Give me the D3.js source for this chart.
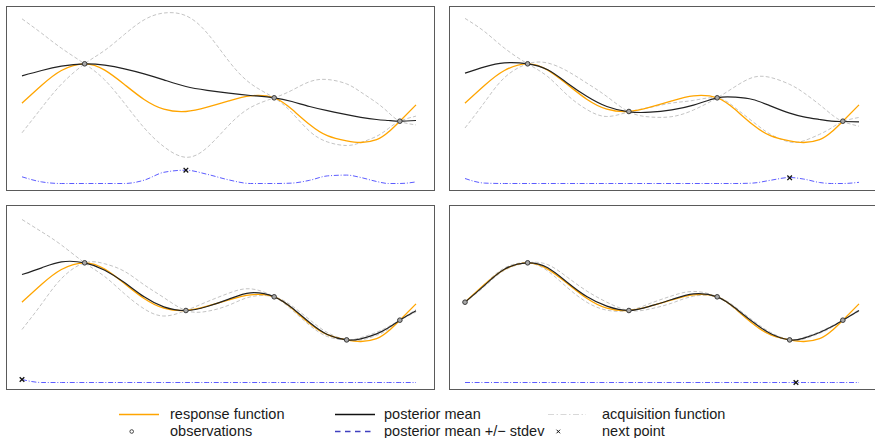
<!DOCTYPE html>
<html>
<head>
<meta charset="utf-8">
<script src="https://cdn.jsdelivr.net/npm/d3@7"></script>
<style>
  html, body { margin: 0; padding: 0; background: #fff; }
  svg { display: block; font-family: "Liberation Sans", Arial, Helvetica, sans-serif; }
</style>
</head>
<body>
<svg id="chart" width="875" height="438"></svg>
<script>
// Shared sampling grid along the input axis
const xGrid = [0, 0.5, 1.0, 1.59, 2.1, 2.6, 3.1, 3.6, 4.16, 4.7, 5.25, 5.8, 6.4, 6.85, 7.3, 7.75, 8.24, 8.6, 9.0, 9.3, 9.59, 10];

// True response function (same in every panel)
const response = [-0.117, 0.33, 0.70, 0.867, 0.708, 0.35, -0.025, -0.267, -0.325, -0.217, -0.06, 0.067, 0.017, -0.27, -0.65, -0.93, -1.06, -1.1, -1.03, -0.84, -0.567, -0.16];

// Observations, in the order they were sampled
const obsX = [1.59, 6.4, 9.59, 4.16, 8.24, 0];
const obsY = [0.867, 0.017, -0.567, -0.325, -1.06, -0.117];
const obsCount = [3, 4, 5, 6];

// Posterior mean per iteration
const mean1 = [0.567, 0.70, 0.808, 0.867, 0.833, 0.742, 0.617, 0.467, 0.30, 0.205, 0.133, 0.075, 0.017, -0.075, -0.2, -0.305, -0.405, -0.47, -0.525, -0.55, -0.567, -0.55];
const mean2 = [0.633, 0.79, 0.89, 0.867, 0.717, 0.383, 0.05, -0.2, -0.333, -0.342, -0.283, -0.167, 0.017, 0.033, -0.025, -0.183, -0.367, -0.458, -0.525, -0.567, -0.575, -0.583];
const mean3 = [0.575, 0.742, 0.892, 0.867, 0.683, 0.375, 0.017, -0.233, -0.325, -0.225, -0.042, 0.117, 0.017, -0.258, -0.625, -0.925, -1.06, -1.033, -0.908, -0.758, -0.567, -0.333];
const mean4 = [-0.117, 0.308, 0.708, 0.867, 0.742, 0.375, 0.017, -0.217, -0.325, -0.217, -0.05, 0.092, 0.017, -0.258, -0.608, -0.9, -1.06, -1.017, -0.875, -0.733, -0.567, -0.325];

// Posterior standard deviation per iteration
const std1 = [1.425, 0.93, 0.45, 0, 0.37, 0.86, 1.35, 1.67, 1.77, 1.43, 0.8, 0.3, 0, 0.28, 0.62, 0.78, 0.77, 0.63, 0.42, 0.2, 0, 0.11];
const std2 = [1.37, 0.88, 0.37, 0, 0.17, 0.3, 0.33, 0.25, 0, 0.12, 0.17, 0.12, 0, 0.26, 0.55, 0.71, 0.72, 0.6, 0.37, 0.17, 0, 0.11];
const std3 = [1.375, 0.9, 0.42, 0, 0.16, 0.28, 0.3, 0.23, 0, 0.12, 0.15, 0.1, 0, 0.05, 0.07, 0.05, 0, 0.03, 0.04, 0.03, 0, 0.03];
const std4 = [0, 0.03, 0.03, 0, 0.08, 0.13, 0.14, 0.1, 0, 0.07, 0.09, 0.06, 0, 0.03, 0.04, 0.03, 0, 0.02, 0.02, 0.02, 0, 0.02];

// Acquisition function per iteration
const acq1 = [0.167, 0.04, 0, 0, 0, 0, 0.083, 0.28, 0.333, 0.23, 0.09, 0, 0, 0.01, 0.08, 0.19, 0.21, 0.15, 0.05, 0, 0, 0.04];
const acq2 = [0.125, 0.01, 0, 0, 0, 0, 0, 0, 0, 0, 0, 0, 0, 0, 0.01, 0.08, 0.15, 0.11, 0.025, 0, 0, 0.03];
const acq3 = [0.075, 0, 0, 0, 0, 0, 0, 0, 0, 0, 0, 0, 0, 0, 0, 0, 0, 0, 0, 0, 0, 0];
const acq4 = [0, 0, 0, 0, 0, 0, 0, 0, 0, 0, 0, 0, 0, 0, 0, 0, 0, 0, 0, 0, 0, 0];

// Point proposed by the acquisition function
const nextX = [4.16, 8.24, 0, 8.4];
const nextAcq = [0.333, 0.142, 0.075, 0];

// Legend entries
const legendLabels = ["response function", "observations", "posterior mean", "posterior mean +/\u2212 stdev", "acquisition function", "next point"];

const means = [mean1, mean2, mean3, mean4];
const stds = [std1, std2, std3, std4];
const acqs = [acq1, acq2, acq3, acq4];

const svg = d3.select("#chart");

const panelW = 428, panelH = 184;
const panelPos = [[6.5, 6.5], [449.5, 6.5], [6.5, 205.5], [449.5, 205.5]];

const C = {
  response: "#ffa500",
  mean: "#222222",
  band: "#c4c4c4",
  acq: "#5c5cff",
  obsStroke: "#3a3a3a",
  obsFill: "#a8a8a8",
  frame: "#5a5a5a"
};

panelPos.forEach(([left, top], i) => {
  const g = svg.append("g");

  const x = d3.scaleLinear().domain([0, 10]).range([left + 15.5, left + 409.5]);
  const y = d3.scaleLinear().domain([-2.3, 2.3]).range([top + 184, top]);
  const ya = d3.scaleLinear().domain([0, 1]).range([top + 177, top + 137]);

  const line = d3.line()
    .x(d => x(d[0]))
    .y(d => y(d[1]))
    .curve(d3.curveNatural);
  const acqLine = d3.line()
    .x(d => x(d[0]))
    .y(d => ya(d[1]))
    .curve(d3.curveMonotoneX);

  const m = means[i], s = stds[i], a = acqs[i];
  const n = obsCount[i];
  const seen = obsX.slice(0, n);

  // frame
  g.append("rect")
    .attr("x", left).attr("y", top)
    .attr("width", panelW).attr("height", panelH)
    .attr("fill", "none").attr("stroke", C.frame).attr("stroke-width", 1);

  // the two band edges swap sides at every observation, so each edge is drawn
  // as one smooth curve crossing the mean there
  const side = xGrid.map(xv => (seen.filter(o => o < xv - 1e-6).length % 2 === 0) ? 1 : -1);
  [1, -1].forEach(sign => {
    g.append("path")
      .datum(xGrid.map((xv, k) => [xv, m[k] + sign * side[k] * s[k]]))
      .attr("d", line)
      .attr("fill", "none")
      .attr("stroke", C.band)
      .attr("stroke-width", 1)
      .attr("stroke-dasharray", "3.7,2.2");
  });

  // response function
  g.append("path")
    .datum(xGrid.map((xv, k) => [xv, response[k]]))
    .attr("d", line)
    .attr("fill", "none")
    .attr("stroke", C.response)
    .attr("stroke-width", 1.3);

  // posterior mean
  g.append("path")
    .datum(xGrid.map((xv, k) => [xv, m[k]]))
    .attr("d", line)
    .attr("fill", "none")
    .attr("stroke", C.mean)
    .attr("stroke-width", 1.2);

  // acquisition function
  g.append("path")
    .datum(xGrid.map((xv, k) => [xv, a[k]]))
    .attr("d", acqLine)
    .attr("fill", "none")
    .attr("stroke", C.acq)
    .attr("stroke-width", 1)
    .attr("stroke-dasharray", "5,1.8,1,1.8");

  // observations
  g.selectAll("circle.obs")
    .data(d3.range(n))
    .enter().append("circle")
    .attr("class", "obs")
    .attr("cx", k => x(obsX[k]))
    .attr("cy", k => y(obsY[k]))
    .attr("r", 2.3)
    .attr("fill", C.obsFill)
    .attr("stroke", C.obsStroke)
    .attr("stroke-width", 1);

  // next point marker
  const nx = x(nextX[i]), ny = ya(nextAcq[i]), h = 2.3;
  g.append("path")
    .attr("d", `M${nx - h},${ny - h}L${nx + h},${ny + h}M${nx - h},${ny + h}L${nx + h},${ny - h}`)
    .attr("stroke", "#111")
    .attr("stroke-width", 1.3);
});

// Legend
const lg = svg.append("g").attr("font-size", 14.5).attr("fill", "#1a1a1a");
const row1 = 414.5, row2 = 431.5;

lg.append("line").attr("x1", 119).attr("x2", 159).attr("y1", row1).attr("y2", row1)
  .attr("stroke", C.response).attr("stroke-width", 1.5);
lg.append("circle").attr("cx", 131.7).attr("cy", row2).attr("r", 1.8)
  .attr("fill", "#fff").attr("stroke", "#333").attr("stroke-width", 0.9);
lg.append("line").attr("x1", 335).attr("x2", 375).attr("y1", row1).attr("y2", row1)
  .attr("stroke", "#111").attr("stroke-width", 1.5);
lg.append("line").attr("x1", 335).attr("x2", 375).attr("y1", row2).attr("y2", row2)
  .attr("stroke", "#4040c0").attr("stroke-width", 1.5).attr("stroke-dasharray", "5.5,4.5");
lg.append("line").attr("x1", 548).attr("x2", 586).attr("y1", row1).attr("y2", row1)
  .attr("stroke", "#d8d8d8").attr("stroke-width", 1).attr("stroke-dasharray", "6,2.5,1.5,2.5");
const lx = 558.3, lyy = row2, lh = 1.8;
lg.append("path")
  .attr("d", `M${lx - lh},${lyy - lh}L${lx + lh},${lyy + lh}M${lx - lh},${lyy + lh}L${lx + lh},${lyy - lh}`)
  .attr("stroke", "#111").attr("stroke-width", 1);

const textPos = [[170, row1], [170, row2], [384, row1], [384, row2], [602, row1], [602, row2]];
lg.selectAll("text")
  .data(legendLabels)
  .enter().append("text")
  .attr("x", (d, k) => textPos[k][0])
  .attr("y", (d, k) => textPos[k][1] + 4.2)
  .text(d => d);
</script>
</body>
</html>
